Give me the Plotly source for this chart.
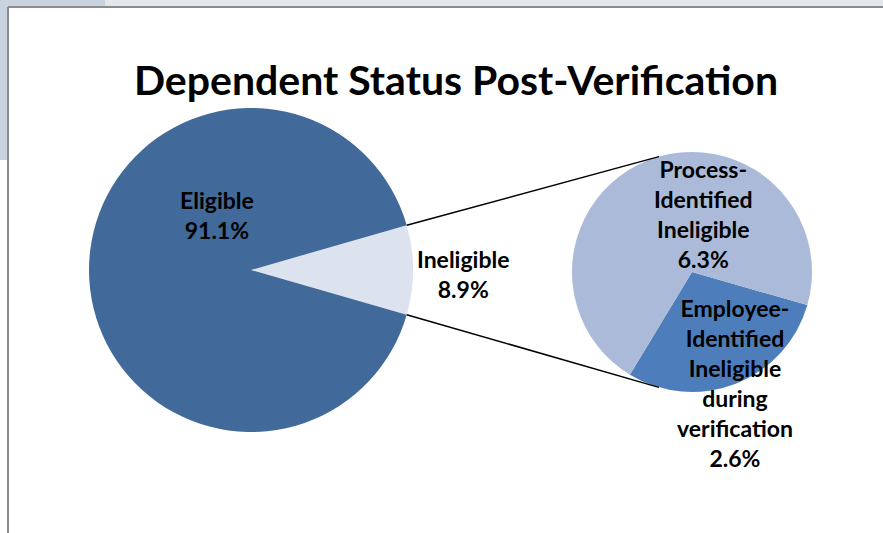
import math
import plotly.graph_objects as go

# ---- data ----
main_labels = ["Ineligible", "Eligible"]
main_values = [8.9, 91.1]
main_colors = ["#DCE3EF", "#41699A"]

sub_labels = ["Employee-Identified Ineligible during verification", "Process-Identified Ineligible"]
sub_values = [2.6, 6.3]
sub_colors = ["#4D7EBB", "#AABAD8"]

title_text = "Dependent Status Post-Verification"

# ---- layout geometry (pixels) ----
W, H = 883, 533
def px(x): return x / W
def py(y): return 1 - y / H

MC = (251, 270); MR = 162      # main pie centre / radius
SC = (692, 272); SR = 120      # secondary pie centre / radius
FONT = "Lato"

fig = go.Figure()

# main pie: ineligible slice centred at 3 o'clock
half = main_values[0] / sum(main_values) * 180.0
fig.add_trace(go.Pie(
    labels=main_labels, values=main_values, sort=False, direction="clockwise",
    rotation=90 - half, textinfo="none", hoverinfo="label+percent",
    marker=dict(colors=main_colors, line=dict(width=0)),
    domain=dict(x=[px(MC[0] - MR), px(MC[0] + MR)], y=[py(MC[1] + MR), py(MC[1] - MR)]),
    showlegend=False,
))

# secondary pie
fig.add_trace(go.Pie(
    labels=sub_labels, values=sub_values, sort=False, direction="clockwise",
    rotation=106, textinfo="none", hoverinfo="label+value",
    marker=dict(colors=sub_colors, line=dict(width=0)),
    domain=dict(x=[px(SC[0] - SR), px(SC[0] + SR)], y=[py(SC[1] + SR), py(SC[1] - SR)]),
    showlegend=False,
))

shapes = []
# background strips and frame
shapes.append(dict(type="rect", xref="paper", yref="paper", x0=0, x1=1, y0=py(7), y1=1,
                   fillcolor="#E4E7EC", line=dict(width=0), layer="below"))
shapes.append(dict(type="rect", xref="paper", yref="paper", x0=0, x1=px(105), y0=py(7), y1=1,
                   fillcolor="#C9D3DF", line=dict(width=0), layer="below"))
shapes.append(dict(type="rect", xref="paper", yref="paper", x0=0, x1=px(8), y0=py(160), y1=1,
                   fillcolor="#C9D3DF", line=dict(width=0), layer="below"))
shapes.append(dict(type="line", xref="paper", yref="paper", x0=px(8), x1=px(8), y0=0, y1=py(7),
                   line=dict(color="#8C8C8C", width=2)))
shapes.append(dict(type="line", xref="paper", yref="paper", x0=px(8), x1=1, y0=py(7), y1=py(7),
                   line=dict(color="#8C8C8C", width=2)))

# connector lines from main-pie slice edges to secondary pie
a = math.radians(half)
b = math.radians(106)
for s in (1, -1):
    x0 = MC[0] + MR * math.cos(a); y0 = MC[1] - s * MR * math.sin(a)
    x1 = SC[0] + SR * math.cos(b); y1 = SC[1] - s * SR * math.sin(b)
    shapes.append(dict(type="line", xref="paper", yref="paper",
                       x0=px(x0), y0=py(y0), x1=px(x1), y1=py(y1),
                       line=dict(color="black", width=1.5)))

lab_font = dict(family=FONT, size=23, color="black", weight="bold")
annotations = [
    dict(text=f"Eligible<br>{main_values[1]}%", x=px(217), y=py(215)),
    dict(text=f"Ineligible<br>{main_values[0]}%", x=px(463), y=py(274)),
    dict(text=f"Process-<br>Identified<br>Ineligible<br>{sub_values[1]}%", x=px(703), y=py(214)),
    dict(text=f"Employee-<br>Identified<br>Ineligible<br>during<br>verification<br>{sub_values[0]}%",
         x=px(735), y=py(383)),
]
for ann in annotations:
    ann.update(xref="paper", yref="paper", showarrow=False, xanchor="center", yanchor="middle",
               font=lab_font, align="center")

fig.update_layout(
    width=W, height=H,
    margin=dict(l=0, r=0, t=0, b=0),
    paper_bgcolor="white", plot_bgcolor="white",
    title=dict(text=title_text, x=px(456), y=py(81), xanchor="center", yanchor="middle",
               font=dict(family=FONT, size=41, color="black", weight="bold")),
    shapes=shapes, annotations=annotations,
)

fig.write_html("out.html", config={"displayModeBar": False},
               post_script="document.body.style.margin='0';document.body.style.overflow='hidden';")
